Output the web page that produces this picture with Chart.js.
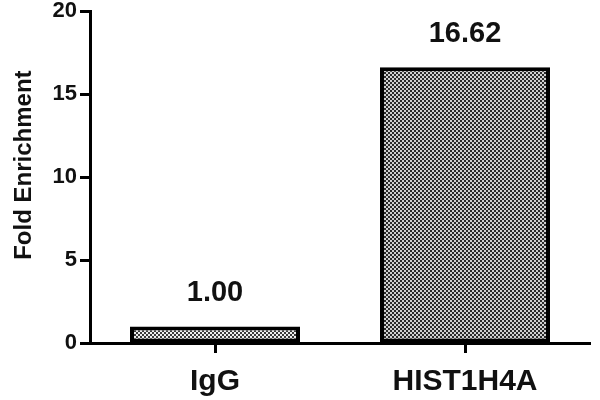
<!DOCTYPE html>
<html>
<head>
<meta charset="utf-8">
<script src="https://cdn.jsdelivr.net/npm/chart.js@4"></script>
<style>
html,body{margin:0;padding:0;background:#fff;}
#wrap{width:600px;height:400px;position:relative;}
</style>
</head>
<body>
<div id="wrap"><canvas id="c" width="600" height="400"></canvas></div>
<script>
const categories = ["IgG", "HIST1H4A"];
const values = [1.00, 16.62];
const valueLabels = ["1.00", "16.62"];
const yTicks = [0, 5, 10, 15, 20];
const yTitle = "Fold Enrichment";

function makePattern(dark, light) {
  const p = document.createElement('canvas');
  p.width = 4; p.height = 4;
  const g = p.getContext('2d');
  g.fillStyle = light; g.fillRect(0, 0, 4, 4);
  g.fillStyle = dark;
  g.fillRect(0, 0, 2, 2);
  g.fillRect(2, 2, 2, 2);
  return g.createPattern(p, 'repeat');
}
const ctx = document.getElementById('c').getContext('2d');
const fills = [makePattern('#3a3a3a', '#eeeeee'), makePattern('#2a2a2a', '#d0d0d0')];

const FONT = "'Liberation Sans', Arial, sans-serif";

const labelPlugin = {
  id: 'valueLabels',
  afterDatasetsDraw(chart) {
    const c = chart.ctx;
    const meta = chart.getDatasetMeta(0);
    c.save();
    c.font = "bold 29px " + FONT;
    c.fillStyle = '#111';
    c.textAlign = 'center';
    c.textBaseline = 'alphabetic';
    meta.data.forEach((bar, i) => {
      c.fillText(valueLabels[i], bar.x, bar.y - 25);
    });
    // y axis title
    const area = chart.chartArea;
    c.font = "bold 24px " + FONT;
    c.translate(24, (area.top + area.bottom) / 2 - 12);
    c.rotate(-Math.PI / 2);
    c.textBaseline = 'middle';
    c.fillText(yTitle, 0, 0);
    c.restore();
  }
};

new Chart(ctx, {
  type: 'bar',
  data: {
    labels: categories,
    datasets: [{
      data: values,
      backgroundColor: fills,
      borderColor: '#000',
      borderWidth: 4,
      borderSkipped: false,
      barPercentage: 0.68,
      categoryPercentage: 1.0
    }]
  },
  options: {
    responsive: false,
    animation: false,
    devicePixelRatio: 1,
    layout: { padding: { top: 0, right: 10, left: 0, bottom: 0 } },
    plugins: { legend: { display: false }, tooltip: { enabled: false } },
    scales: {
      x: {
        offset: true,
        afterFit: s => { s.height = 57; },
        grid: { display: true, drawOnChartArea: false, offset: false, tickLength: 10, tickColor: '#000', tickWidth: 3 },
        border: { display: true, color: '#000', width: 3 },
        ticks: { color: '#111', padding: 11, font: { family: FONT, size: 30, weight: 'bold' } }
      },
      y: {
        min: 0, max: 20,
        afterFit: s => { s.width = 90; },
        afterBuildTicks: s => { s.ticks = yTicks.map(v => ({ value: v })); },
        grid: { display: true, drawOnChartArea: false, tickLength: 10, tickColor: '#000', tickWidth: 3 },
        border: { display: true, color: '#000', width: 3 },
        ticks: { color: '#111', padding: 3, font: { family: FONT, size: 22, weight: 'bold', lineHeight: 0.75 } },
        title: { display: false }
      }
    }
  },
  plugins: [labelPlugin]
});
</script>
</body>
</html>
